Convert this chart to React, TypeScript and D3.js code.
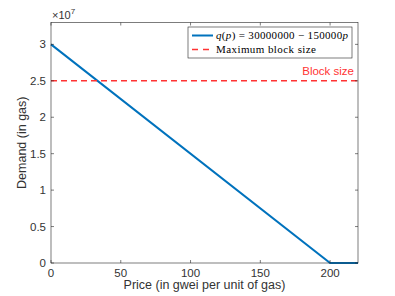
import React from 'react';
import * as d3 from 'd3';

// Demand curve q(p) = 30000000 - 150000p, clipped at zero
const prices = [0, 200, 220];
const demand = [30000000, 0, 0];
const blockSize = 25000000;
const xTicks = [0, 50, 100, 150, 200];
const yTicks = [0, 0.5e7, 1e7, 1.5e7, 2e7, 2.5e7, 3e7];

const W = 395;
const H = 296;
const margin = { left: 51, right: 37, top: 22.5, bottom: 33 };
const font = 'Liberation Sans, Arial, sans-serif';
const serif = 'Liberation Serif, DejaVu Serif, serif';
const axisColor = '#262626';
const textColor = '#333';

const App: React.FC = () => {
  const x = d3.scaleLinear().domain([0, 220]).range([margin.left, W - margin.right]);
  const y = d3.scaleLinear().domain([0, 3.3e7]).range([H - margin.bottom, margin.top]);

  const line = d3.line<number>()
    .x((_, i) => x(prices[i]))
    .y(d => y(d));

  const [x0, x1] = x.range();
  const [y0, y1] = y.range();
  const tickLen = 3;

  return (
    <svg width={W} height={H} style={{ position: 'absolute', left: 0, top: 0, background: '#fff' }}>
      <rect x={0} y={0} width={W} height={H} fill="#fff" />
      {/* data */}
      <path d={line(demand) || ''} fill="none" stroke="#0072BD" strokeWidth={2} />
      <line x1={x0} x2={x1} y1={y(blockSize)} y2={y(blockSize)}
        stroke="#FF3333" strokeWidth={1.5} strokeDasharray="6,4" />
      <text x={x1 - 4} y={y(blockSize) - 6} textAnchor="end" fontFamily={font} fontSize={11.5} fill="#FF3333">
        Block size
      </text>

      {/* box */}
      <rect x={x0} y={y1} width={x1 - x0} height={y0 - y1} fill="none" stroke={axisColor} strokeWidth={0.6} />

      {/* x ticks */}
      {xTicks.map(t => (
        <g key={'x' + t}>
          <line x1={x(t)} x2={x(t)} y1={y0} y2={y0 - tickLen} stroke={axisColor} strokeWidth={0.6} />
          <line x1={x(t)} x2={x(t)} y1={y1} y2={y1 + tickLen} stroke={axisColor} strokeWidth={0.6} />
          <text x={x(t)} y={y0 + 14} textAnchor="middle" fontFamily={font} fontSize={11.5} fill={textColor}>{t}</text>
        </g>
      ))}
      {/* y ticks */}
      {yTicks.map(t => (
        <g key={'y' + t}>
          <line x1={x0} x2={x0 + tickLen} y1={y(t)} y2={y(t)} stroke={axisColor} strokeWidth={0.6} />
          <line x1={x1} x2={x1 - tickLen} y1={y(t)} y2={y(t)} stroke={axisColor} strokeWidth={0.6} />
          <text x={x0 - 5} y={y(t) + 4} textAnchor="end" fontFamily={font} fontSize={11.5} fill={textColor}>
            {t / 1e7}
          </text>
        </g>
      ))}
      <text x={x0 + 1} y={y1 - 4} fontFamily={font} fontSize={11} fill={textColor}>
        ×10<tspan dy={-5} fontSize={8}>7</tspan>
      </text>

      {/* axis labels */}
      <text x={(x0 + x1) / 2} y={H - 7} textAnchor="middle" fontFamily={font} fontSize={12.5} fill={textColor}>
        Price (in gwei per unit of gas)
      </text>
      <text transform={`translate(26,${(y0 + y1) / 2}) rotate(-90)`} textAnchor="middle"
        fontFamily={font} fontSize={12.5} fill={textColor}>
        Demand (in gas)
      </text>

      {/* legend */}
      <g transform="translate(188,27)">
        <rect x={0} y={0} width={164} height={31} fill="#fff" stroke={axisColor} strokeWidth={0.6} />
        <line x1={4} x2={25} y1={8.5} y2={8.5} stroke="#0072BD" strokeWidth={2} />
        <text x={28} y={12} fontFamily={serif} fontSize={11} textLength={132} fill="#000">
          <tspan fontStyle="italic">q</tspan>(<tspan fontStyle="italic">p</tspan>) = 30000000 − 150000<tspan fontStyle="italic">p</tspan>
        </text>
        <line x1={4} x2={25} y1={22.5} y2={22.5} stroke="#FF3333" strokeWidth={1.5} strokeDasharray="6,5" />
        <text x={28} y={26} fontFamily={serif} fontSize={11} textLength={100} fill="#000">
          Maximum block size
        </text>
      </g>
    </svg>
  );
};

export default App;
